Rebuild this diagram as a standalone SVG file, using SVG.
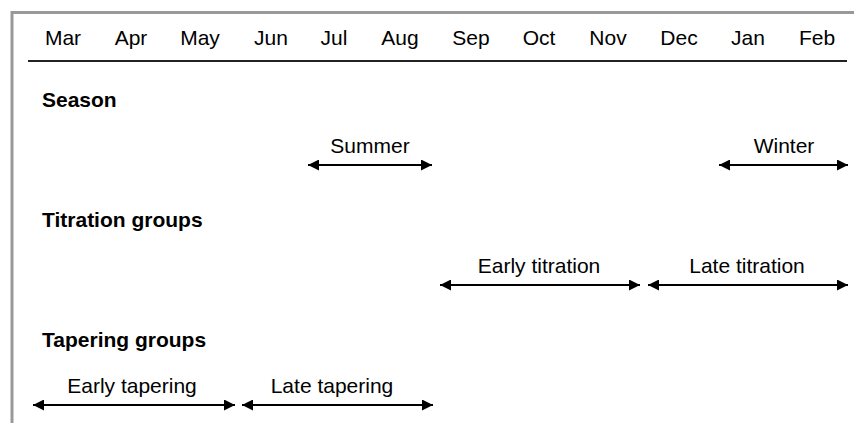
<svg xmlns="http://www.w3.org/2000/svg" width="854" height="423" viewBox="0 0 854 423">
<style>
text{font-family:"Liberation Sans",Arial,sans-serif;font-size:21px;fill:#000}
.m{text-anchor:middle}
.b{font-weight:bold}
.a{stroke:#000;stroke-width:2;fill:none;marker-start:url(#h);marker-end:url(#h)}
</style>
<defs>
<marker id="h" viewBox="0 0 10 10" refX="10" refY="5" markerWidth="5.5" markerHeight="5.5" orient="auto-start-reverse" markerUnits="strokeWidth">
<path d="M0,0 L10,5 L0,10 Z" fill="#000"/>
</marker>
</defs>
<rect width="854" height="423" fill="#fff"/>
<g id="frame" fill="none" stroke="#999" stroke-width="3">
<path d="M12,423 V12.5 H854"/>
</g>
<g id="months">
<text class="m" x="63" y="45">Mar</text>
<text class="m" x="131" y="45">Apr</text>
<text class="m" x="200" y="45">May</text>
<text class="m" x="271" y="45">Jun</text>
<text class="m" x="334" y="45">Jul</text>
<text class="m" x="400" y="45">Aug</text>
<text class="m" x="471" y="45">Sep</text>
<text class="m" x="539" y="45">Oct</text>
<text class="m" x="608" y="45">Nov</text>
<text class="m" x="679" y="45">Dec</text>
<text class="m" x="748" y="45">Jan</text>
<text class="m" x="817" y="45">Feb</text>
</g>
<line x1="28" y1="61" x2="847" y2="61" stroke="#222" stroke-width="2"/>
<g id="headings">
<text class="b" x="42" y="107">Season</text>
<text class="b" x="42" y="227">Titration groups</text>
<text class="b" x="42" y="347">Tapering groups</text>
</g>
<g id="summer"><text class="m" x="370" y="153">Summer</text></g>
<g id="winter"><text class="m" x="784" y="153">Winter</text></g>
<g id="early-titration"><text class="m" x="539" y="273">Early titration</text></g>
<g id="late-titration"><text class="m" x="747" y="273">Late titration</text></g>
<g id="early-tapering"><text class="m" x="132" y="393">Early tapering</text></g>
<g id="late-tapering"><text class="m" x="332" y="393">Late tapering</text></g>
<g id="connectors">
<line class="a" x1="308" y1="165" x2="432" y2="165"/>
<line class="a" x1="719" y1="165" x2="848" y2="165"/>
<line class="a" x1="440" y1="285" x2="640" y2="285"/>
<line class="a" x1="648" y1="285" x2="848" y2="285"/>
<line class="a" x1="33" y1="405" x2="235" y2="405"/>
<line class="a" x1="242" y1="405" x2="433" y2="405"/>
</g>
</svg>
